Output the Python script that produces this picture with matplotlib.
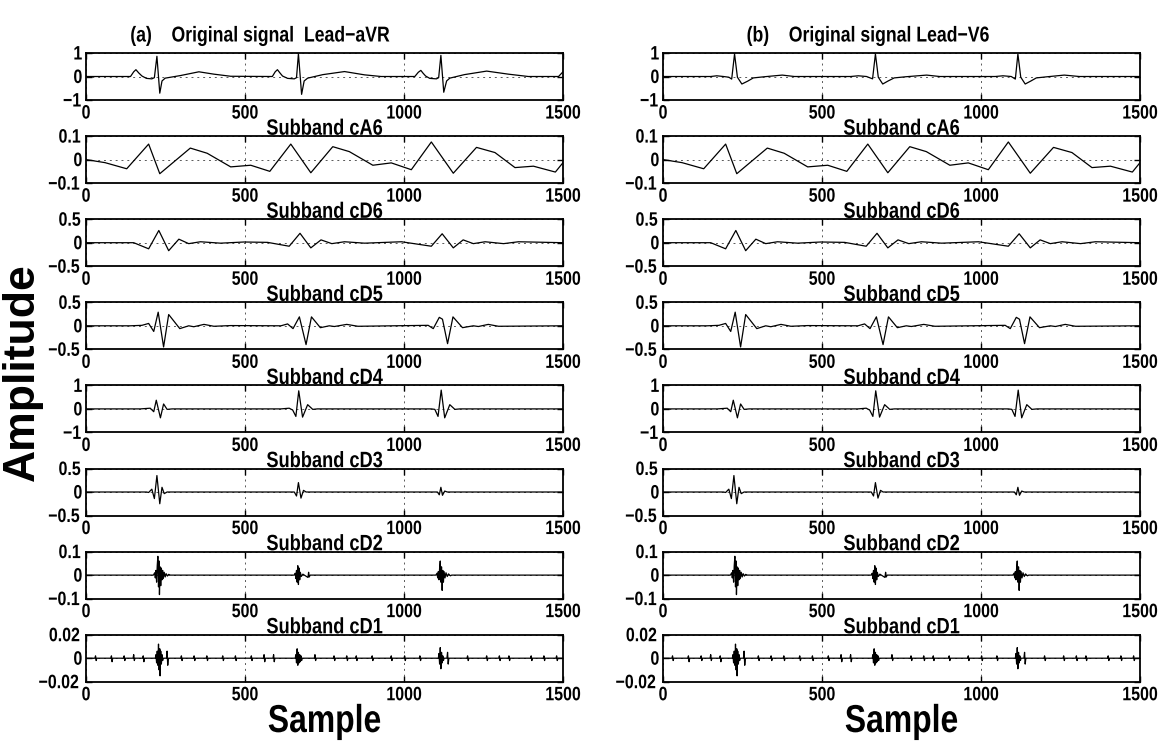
import matplotlib
matplotlib.use("Agg")
import matplotlib.pyplot as plt
from matplotlib.patheffects import AbstractPathEffect
from matplotlib.transforms import Affine2D

plt.rcParams['font.family'] = ['Liberation Sans', 'DejaVu Sans']
plt.rcParams['font.weight'] = 'bold'

# ---- data (sample index, amplitude) ----
avr_x = [0, 140, 150, 157, 166, 176, 190, 207, 215, 223, 232, 239, 249, 297, 355, 402, 455,
         586, 595, 602, 610, 618, 634, 655, 662, 668, 678, 686, 697, 745, 813, 876, 928,
         1034, 1045, 1053, 1060, 1068, 1081, 1102, 1109, 1116, 1125, 1134, 1144, 1190, 1260,
         1328, 1391, 1486, 1500]
avr_y = [0.0, 0.0, 0.2, 0.29, 0.15, 0.02, -0.08, -0.1, -0.05, 0.86, -0.71, -0.19, -0.07, 0.04,
         0.2, 0.1, 0.01,
         0.0, 0.2, 0.29, 0.15, 0.02, -0.08, -0.1, -0.05, 0.97, -0.76, -0.19, -0.07, 0.08, 0.21,
         0.07, 0.0,
         0.0, 0.18, 0.26, 0.14, 0.02, -0.08, -0.1, -0.05, 0.9, -0.67, -0.19, -0.07, 0.08, 0.23,
         0.1, 0.0, 0.0, 0.2]

v6_x = [0, 150, 169, 190, 207, 216, 225, 234, 248, 266, 284, 319, 375, 413,
        590, 614, 640, 659, 668, 677, 691, 708, 727, 764, 829, 870,
        1045, 1069, 1095, 1108, 1116, 1125, 1139, 1157, 1174, 1209, 1262, 1309, 1500]
v6_y = [0.0, 0.0, 0.03, 0.0, -0.03, -0.11, 0.96, -0.03, -0.32, -0.2, -0.06, -0.01, 0.06, 0.0,
        0.0, 0.03, 0.0, -0.1, 0.96, -0.03, -0.32, -0.19, -0.06, -0.01, 0.06, 0.0,
        0.0, 0.03, 0.0, -0.11, 0.96, -0.03, -0.32, -0.19, -0.06, -0.01, 0.06, 0.0, 0.0]

ca6_x = [0, 60, 128, 197, 232, 328, 381, 455, 518, 578, 644, 707, 776, 828, 902, 960,
         1023, 1086, 1155, 1228, 1286, 1349, 1407, 1476, 1500]
ca6_y = [0.0, -0.013, -0.039, 0.066, -0.06, 0.049, 0.027, -0.031, -0.024, -0.05, 0.066, -0.056,
         0.055, 0.034, -0.024, -0.014, -0.043, 0.075, -0.058, 0.052, 0.03, -0.034, -0.028,
         -0.053, -0.013]

cd6_x = [0, 150, 197, 229, 260, 292, 323, 360, 423, 497, 571, 639, 673, 707, 739, 773, 813,
         876, 992, 1086, 1120, 1155, 1186, 1218, 1255, 1313, 1360, 1500]
cd6_y = [0.0, 0.0, -0.13, 0.26, -0.17, 0.075, -0.02, 0.02, -0.01, 0.015, 0.007, -0.075, 0.2,
         -0.11, 0.06, -0.02, 0.02, -0.01, 0.02, -0.075, 0.19, -0.11, 0.06, -0.02, 0.02, -0.02,
         0.02, 0.0]

cd5_x = [0, 139, 176, 197, 213, 227, 244, 260, 295, 323, 339, 371, 402, 455,
         613, 634, 651, 671, 692, 709, 737, 765, 781, 820, 855,
         1076, 1092, 1111, 1121, 1137, 1154, 1184, 1218, 1234, 1265, 1297, 1500]
cd5_y = [0.0, 0.0, 0.01, 0.05, -0.12, 0.29, -0.45, 0.24, -0.06, 0.0, -0.02, 0.03, -0.01, 0.005,
         0.0, 0.04, -0.06, 0.19, -0.4, 0.19, -0.04, 0.0, -0.015, 0.03, -0.01,
         0.01, -0.06, 0.18, 0.14, -0.38, 0.19, -0.04, 0.0, -0.015, 0.03, -0.01, 0.0]

cd4_x = [0, 171, 202, 213, 221, 234, 244, 255, 271,
         613, 639, 650, 660, 669, 681, 697, 713, 728,
         1086, 1097, 1107, 1117, 1128, 1144, 1160, 1176, 1500]
cd4_y = [0.0, 0.0, 0.03, -0.12, 0.37, -0.38, 0.21, -0.02, 0.0,
         0.0, 0.03, -0.05, -0.32, 0.77, -0.35, 0.18, -0.02, 0.0,
         0.0, -0.02, -0.32, 0.8, -0.38, 0.18, -0.02, 0.0, 0.0]

cd3_x = [0, 190, 197, 207, 215, 223, 232, 239, 246, 255,
         655, 662, 668, 676, 684, 692,
         1105, 1111, 1116, 1121, 1128, 1136, 1500]
cd3_y = [0.0, 0.0, -0.01, 0.06, -0.14, 0.35, -0.25, 0.1, -0.035, 0.0,
         0.0, -0.085, 0.2, -0.13, 0.035, 0.0,
         0.0, -0.06, 0.1, -0.07, 0.02, 0.0, 0.0]

cd2_x = [0, 212, 216, 218, 220, 222, 224, 226, 228, 230, 231, 233, 235, 237, 239, 241, 243,
         246, 249, 252, 256, 260, 265,
         655, 658, 660, 662, 664, 666, 668, 670, 672, 674, 677, 682, 698, 700, 702, 705,
         1100, 1104, 1106, 1108, 1110, 1112, 1114, 1116, 1118, 1120, 1122, 1124, 1126, 1129,
         1132, 1136, 1140, 1146, 1150, 1500]
cd2_y = [0.0, 0.0, 0.01, -0.012, 0.02, -0.03, 0.04, 0.08, -0.05, 0.06, -0.083, 0.035, -0.045,
         0.03, -0.02, 0.02, -0.015, 0.012, -0.008, 0.006, -0.004, 0.003, 0.0,
         0.0, 0.008, -0.015, 0.02, -0.03, 0.04, -0.04, 0.03, -0.02, 0.012, -0.006, 0.004,
         -0.01, 0.012, -0.008, 0.0,
         0.0, 0.008, -0.012, 0.015, -0.02, 0.03, 0.06, -0.03, 0.035, -0.065, 0.02, -0.03,
         0.015, -0.012, 0.01, -0.006, 0.005, -0.003, 0.0, 0.0]

cd1_x = [0,
         28, 30, 32, 34, 78, 80, 82, 84, 118, 120, 122, 124, 148, 150, 152, 154,
         178, 180, 182, 184,
         218, 220, 222, 224, 226, 228, 230, 232, 233, 235, 237, 239, 241, 243,
         253, 255, 257, 259,
         298, 300, 302, 304, 338, 340, 342, 344, 378, 380, 382, 384, 428, 430, 432, 434,
         468, 470, 472, 474, 518, 520, 522, 524, 558, 560, 562, 564, 588, 590, 592, 594,
         658, 660, 662, 664, 666, 668, 670, 672, 674, 676, 678, 680,
         718, 720, 722, 724, 778, 780, 782, 784, 818, 820, 822, 824, 848, 850, 852, 854,
         898, 900, 902, 904, 958, 960, 962, 964, 1000, 1002, 1004, 1006, 1048, 1050, 1052, 1054,
         1108, 1110, 1112, 1114, 1116, 1118, 1120, 1122, 1124, 1126,
         1135, 1137, 1139, 1141,
         1198, 1200, 1202, 1204, 1258, 1260, 1262, 1264, 1298, 1300, 1302, 1304,
         1328, 1330, 1332, 1334, 1398, 1400, 1402, 1404, 1438, 1440, 1442, 1444,
         1478, 1480, 1482, 1484,
         1500]
cd1_y = [0.0,
         0, 0.002, -0.002, 0, 0, 0.002, -0.003, 0, 0, 0.002, -0.002, 0, 0, 0.003, -0.002, 0,
         0, 0.002, -0.003, 0,
         0, 0.003, -0.004, 0.006, -0.006, 0.012, -0.01, 0.008, -0.015, 0.006, -0.005, 0.003,
         -0.002, 0,
         0, 0.006, -0.006, 0,
         0, 0.002, -0.002, 0, 0, 0.002, -0.002, 0, 0, 0.002, -0.002, 0, 0, 0.002, -0.002, 0,
         0, 0.002, -0.002, 0, 0, 0.002, -0.002, 0, 0, 0.003, -0.003, 0, 0, 0.003, -0.003, 0,
         0, 0.003, -0.004, 0.008, -0.006, 0.005, -0.004, 0.003, -0.003, 0.002, -0.002, 0,
         0, 0.003, -0.002, 0, 0, 0.002, -0.002, 0, 0, 0.002, -0.002, 0, 0, 0.002, -0.002, 0,
         0, 0.002, -0.002, 0, 0, 0.002, -0.002, 0, 0, 0.002, -0.002, 0, 0, 0.002, -0.002, 0,
         0, 0.004, -0.005, 0.009, -0.009, 0.005, -0.004, 0.002, -0.002, 0,
         0, 0.005, -0.005, 0,
         0, 0.002, -0.002, 0, 0, 0.002, -0.002, 0, 0, 0.002, -0.002, 0,
         0, 0.002, -0.002, 0, 0, 0.002, -0.002, 0, 0, 0.002, -0.002, 0,
         0, 0.002, -0.002, 0,
         0.0]

subband_names = ['Subband cA6', 'Subband cD6', 'Subband cD5', 'Subband cD4',
                 'Subband cD3', 'Subband cD2', 'Subband cD1']
ylims = [1, 0.1, 0.5, 0.5, 1, 0.5, 0.1, 0.02]
ytick_labels = [['\u22121', '0', '1'], ['\u22120.1', '0', '0.1'], ['\u22120.5', '0', '0.5'],
                ['\u22120.5', '0', '0.5'], ['\u22121', '0', '1'], ['\u22120.5', '0', '0.5'],
                ['\u22120.1', '0', '0.1'], ['\u22120.02', '0', '0.02']]
xticks = [0, 500, 1000, 1500]
col_titles = ['(a)    Original signal  Lead\u2212aVR', '(b)    Original signal Lead\u2212V6']

subbands = [(ca6_x, ca6_y), (cd6_x, cd6_y), (cd5_x, cd5_y), (cd4_x, cd4_y),
            (cd3_x, cd3_y), (cd2_x, cd2_y), (cd1_x, cd1_y)]
columns = [[(avr_x, avr_y)] + subbands, [(v6_x, v6_y)] + subbands]


class Narrow(AbstractPathEffect):
    """squeeze glyphs sideways round their centre (the original uses a narrow face)"""
    def __init__(self, sx=0.82):
        super().__init__()
        self.sx = sx

    def draw_path(self, renderer, gc, tpath, affine, rgbFace=None):
        ext = tpath.get_extents()
        cx = (ext.x0 + ext.x1) / 2
        squeeze = Affine2D().translate(-cx, 0).scale(self.sx, 1).translate(cx, 0)
        renderer.draw_path(gc, tpath, squeeze + affine, rgbFace)


narrow = [Narrow(0.82)]

W, H = 1162, 743
fig = plt.figure(figsize=(W / 100, H / 100), dpi=100)

col_left = [86, 663]
ax_w, ax_h = 477, 47
top0, step = 53, 83.1

for c, traces in enumerate(columns):
    for r, (xs, ys) in enumerate(traces):
        top = top0 + step * r
        ax = fig.add_axes([col_left[c] / W, 1 - (top + ax_h) / H, ax_w / W, ax_h / H])
        ax.plot(xs, ys, color='black', lw=0.9)
        lim = ylims[r]
        ax.set_xlim(0, 1500)
        ax.set_ylim(-lim, lim)
        ax.set_xticks(xticks)
        ax.set_xticklabels([str(t) for t in xticks])
        ax.set_yticks([-lim, 0, lim])
        ax.set_yticklabels(ytick_labels[r])
        ax.grid(True, ls=(0, (2, 4)), color='0.35', lw=0.7)
        ax.tick_params(direction='in', length=4, top=True, right=True,
                       labelsize=14, width=1)
        ax.tick_params(axis='x', pad=4)
        ax.tick_params(axis='y', pad=2)
        for lab in ax.get_xticklabels() + ax.get_yticklabels():
            lab.set_fontweight('bold')
            lab.set_path_effects(narrow)
        for sp in ax.spines.values():
            sp.set_linewidth(1.3)
        if r > 0:
            t = ax.set_title(subband_names[r - 1], fontsize=16, fontweight='bold', pad=1)
            t.set_path_effects(narrow)

    tt = fig.text([260, 868][c] / W, 1 - 36 / H, col_titles[c],
                  fontsize=15.5, fontweight='bold', ha='center', va='center')
    tt.set_path_effects(narrow)
    st = fig.text((col_left[c] + ax_w / 2) / W, 1 - 722 / H, 'Sample',
                  fontsize=28, fontweight='bold', ha='center', va='center')
    st.set_path_effects(narrow)

fig.text(22 / W, 1 - 372 / H, 'Amplitude', rotation=90, fontsize=32, fontweight='bold',
         ha='center', va='center')

fig.savefig('out.png', dpi=100)
